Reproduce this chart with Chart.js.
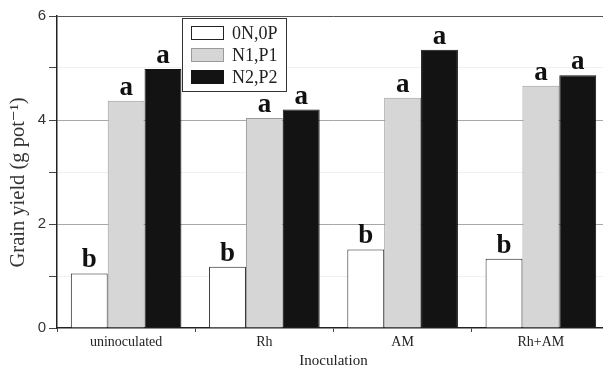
<!DOCTYPE html>
<html>
<head>
<meta charset="utf-8">
<script src="https://cdn.jsdelivr.net/npm/chart.js@4.4.0/dist/chart.umd.min.js"></script>
<style>
  html, body { margin: 0; padding: 0; background: #fff; overflow: hidden; }
  #wrap { width: 615px; height: 369px; }
</style>
</head>
<body>
<div id="wrap"><canvas id="yieldChart" width="615" height="369"></canvas></div>
<script>
// categories and series
const categories = ['uninoculated', 'Rh', 'AM', 'Rh+AM'];
const seriesNames = ['0N,0P', 'N1,P1', 'N2,P2'];
const noFert = [1.05, 1.18, 1.51, 1.33];
const fert1 = [4.37, 4.04, 4.43, 4.66];
const fert2 = [4.98, 4.20, 5.35, 4.86];
// significance letters per series
const lettersNoFert = ['b', 'b', 'b', 'b'];
const lettersFert1 = ['a', 'a', 'a', 'a'];
const lettersFert2 = ['a', 'a', 'a', 'a'];
const yTicks = [0, 2, 4, 6];
const yTitle = 'Grain yield (g pot\u207B\u00B9)';

const serif = '"Liberation Serif", "DejaVu Serif", serif';

// letters on top of every bar
const letterPlugin = {
    id: 'letters',
    afterDatasetsDraw(chart) {
        const ctx = chart.ctx;
        const sets = [lettersNoFert, lettersFert1, lettersFert2];
        ctx.save();
        ctx.font = 'bold 27px ' + serif;
        ctx.fillStyle = '#111';
        ctx.textAlign = 'center';
        ctx.textBaseline = 'alphabetic';
        sets.forEach((letters, di) => {
            chart.getDatasetMeta(di).data.forEach((bar, i) => {
                ctx.fillText(letters[i], bar.x, bar.y - 6);
            });
        });
        ctx.restore();
    }
};

// boxed legend inside the plot + y title sitting a bit low like the original
const boxLegend = {
    id: 'boxLegend',
    afterDraw(chart) {
        const ctx = chart.ctx;
        const x = 182, y = 18, w = 104, h = 73;
        ctx.save();
        ctx.fillStyle = '#fff';
        ctx.fillRect(x, y, w, h);
        ctx.strokeStyle = '#333';
        ctx.lineWidth = 1;
        ctx.strokeRect(x + 0.5, y + 0.5, w, h);
        ctx.font = '18px ' + serif;
        ctx.textBaseline = 'middle';
        chart.data.datasets.forEach((ds, i) => {
            const ry = y + 15 + i * 22;
            ctx.fillStyle = ds.backgroundColor;
            ctx.fillRect(x + 9, ry - 7, 32, 13);
            ctx.strokeStyle = ds.borderColor;
            ctx.strokeRect(x + 9.5, ry - 6.5, 32, 13);
            ctx.fillStyle = '#222';
            ctx.fillText(ds.label, x + 50, ry + 1);
        });

        // rotated axis title
        const yScale = chart.scales.y;
        ctx.translate(19, yScale.getPixelForValue(2.8));
        ctx.rotate(-Math.PI / 2);
        ctx.font = '20.5px ' + serif;
        ctx.fillStyle = '#333';
        ctx.textAlign = 'center';
        ctx.textBaseline = 'middle';
        ctx.fillText(yTitle, 0, 0);
        ctx.restore();
    }
};

new Chart(document.getElementById('yieldChart'), {
    type: 'bar',
    data: {
        labels: categories,
        datasets: [
            { label: seriesNames[0], data: noFert, backgroundColor: '#ffffff', borderColor: '#222', borderWidth: 1 },
            { label: seriesNames[1], data: fert1, backgroundColor: '#d6d6d6', borderColor: '#9a9a9a', borderWidth: 1 },
            { label: seriesNames[2], data: fert2, backgroundColor: '#131313', borderColor: '#131313', borderWidth: 1 }
        ]
    },
    options: {
        responsive: false,
        animation: false,
        layout: { padding: { top: 16, right: 5, left: 0, bottom: 0 } },
        datasets: { bar: { categoryPercentage: 0.8, barPercentage: 1.0 } },
        plugins: {
            legend: { display: false },
            tooltip: { enabled: false }
        },
        scales: {
            x: {
                afterFit: s => { s.height = 41; },
                grid: { offset: true, drawOnChartArea: false, tickLength: 4, color: '#444' },
                border: { color: '#222', width: 1.5 },
                ticks: { color: '#222', font: { family: serif, size: 14 }, padding: 2 },
                title: { display: true, text: 'Inoculation', color: '#222', font: { family: serif, size: 15, lineHeight: 1.0 }, padding: { top: 0, bottom: 0 } }
            },
            y: {
                min: 0,
                max: 6,
                afterFit: s => { s.width = 57; },
                afterBuildTicks: s => {
                    s.ticks = [0, 1, 2, 3, 4, 5, 6].map(v => ({ value: v }));
                },
                grid: {
                    tickLength: 8,
                    color: c => {
                        const v = c.tick ? c.tick.value : 0;
                        if (v === 6) return '#555';
                        if (v === 0) return 'rgba(0,0,0,0)';
                        return yTicks.includes(v) ? '#a8a8a8' : '#f0f0f0';
                    },
                    tickColor: '#444'
                },
                border: { color: '#222', width: 1.5 },
                ticks: {
                    color: '#333',
                    padding: 3,
                    font: { family: '"Liberation Sans", Arial, sans-serif', size: 15 },
                    callback: v => (yTicks.includes(v) ? String(v) : '')
                },
                title: { display: false }
            }
        }
    },
    plugins: [letterPlugin, boxLegend]
});
</script>
</body>
</html>
